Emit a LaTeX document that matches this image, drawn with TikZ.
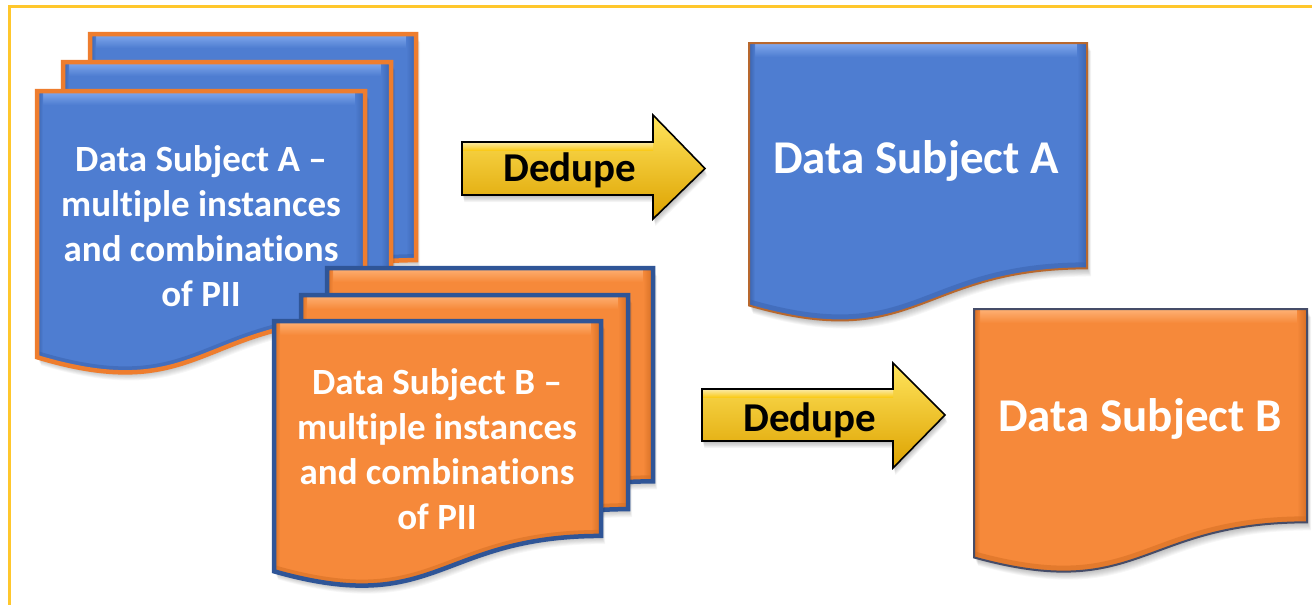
\documentclass[tikz,border=0pt]{standalone}
\usepackage{fontspec}
\setmainfont{Carlito}[Ligatures=NoCommon]
\usetikzlibrary{calc}

\definecolor{docblue}{HTML}{4E7DD1}
\definecolor{bluelight}{HTML}{86ADF0}
\definecolor{bluedark}{HTML}{3A63AE}
\definecolor{docorange}{HTML}{F6893A}
\definecolor{orangelight}{HTML}{FFB57A}
\definecolor{orangedark}{HTML}{D46E24}
\definecolor{edgeorange}{HTML}{EE7D2E}
\definecolor{edgeblue}{HTML}{2F5597}
\definecolor{edgebrown}{HTML}{B8682E}
\definecolor{edgeslate}{HTML}{454C68}
\definecolor{frameyellow}{HTML}{FFC72C}
\definecolor{arrowtop}{HTML}{FFE45C}
\definecolor{arrowmid}{HTML}{FFC800}
\definecolor{arrowbot}{HTML}{DDA200}

% flowchart "document" shape with a soft shadow and a bevelled look
% #1 x, #2 y, #3 width, #4 height, #5 fill, #6 light, #7 dark, #8 edge colour, #9 edge width
\newcommand\flowdoc[9]{%
  \def\dpath{(#1,#2) -- ({#1+#3},#2) -- ({#1+#3},{#2+0.802*#4})
    .. controls ({#1+0.5*#3},{#2+0.802*#4}) and ({#1+0.5*#3},{#2+1.1075*#4}) .. (#1,{#2+0.934*#4}) -- cycle}%
  \foreach \s in {1,...,9}{\fill[black,opacity=0.03,shift={({0.45*\s},{0.9*\s})}] \dpath;}
  \begin{scope}
    \clip \dpath;
    \fill[#5] \dpath;
    \shade[top color=#6, bottom color=#5] (#1,{#2-1}) rectangle ({#1+#3},{#2+14});
    \shade[left color=#5, right color=#7] ({#1+#3-10},#2) rectangle ({#1+#3},{#2+1.2*#4});
    \shade[left color=#7, right color=#5] (#1,#2) rectangle ({#1+6},{#2+1.2*#4});
    \draw[#7, line width=12, opacity=0.55] ({#1+#3},{#2+0.802*#4})
      .. controls ({#1+0.5*#3},{#2+0.802*#4}) and ({#1+0.5*#3},{#2+1.1075*#4}) .. (#1,{#2+0.934*#4});
  \end{scope}
  \draw[#8, line width=#9, line join=miter] \dpath;
}

% block arrow: #1 tail x, #2 shaft top, #3 shaft bottom, #4 head base x,
% #5 head top, #6 head bottom, #7 tip x
\newcommand\blockarrow[7]{%
  \def\apath{(#1,#2) -- (#4,#2) -- (#4,#5) -- (#7,{0.5*(#2+#3)}) -- (#4,#6) -- (#4,#3) -- (#1,#3) -- cycle}%
  \foreach \s in {1,...,8}{\fill[black,opacity=0.035,shift={({0.3*\s},{0.9*\s})}] \apath;}
  \shade[top color=arrowtop, middle color=arrowmid, bottom color=arrowbot] \apath;
  \begin{scope}
    \clip \apath;
    \shade[top color=white, bottom color=arrowmid, opacity=0.55] (#1,#2) rectangle (#4,{#2+8});
  \end{scope}
  \draw[black, line width=1.6, line join=miter] \apath;
}

\tikzset{
  stacktext/.style={text=white, font=\bfseries\fontsize{37}{45}\selectfont, align=center, inner sep=0pt},
  bigtext/.style={text=white, font=\bfseries\fontsize{47}{56}\selectfont, inner sep=0pt, anchor=base},
  arrowtext/.style={text=black, font=\bfseries\fontsize{41}{49}\selectfont, inner sep=0pt, anchor=base}
}

\begin{document}
\begin{tikzpicture}[x=1pt, y=-1pt]
  \useasboundingbox (0,0) rectangle (1312,605);
  \fill[white] (0,0) rectangle (1312,605);
  % frame
  \draw[frameyellow, line width=3] (1320,6) -- (9.5,6) -- (9.5,615);

  % stack of records for subject A
  \flowdoc{90}{34}{326}{282}{docblue}{bluelight}{bluedark}{edgeorange}{4.5}
  \flowdoc{63}{62}{328}{282}{docblue}{bluelight}{bluedark}{edgeorange}{4.5}
  \flowdoc{37}{91}{328}{285}{docblue}{bluelight}{bluedark}{edgeorange}{4.5}
  \node[stacktext] (stackA) at (201,226) {Data Subject A --\\multiple instances\\and combinations\\of PII};

  % stack of records for subject B
  \flowdoc{327}{268}{326}{266}{docorange}{orangelight}{orangedark}{edgeblue}{4.5}
  \flowdoc{301}{295}{327}{267}{docorange}{orangelight}{orangedark}{edgeblue}{4.5}
  \flowdoc{274}{321}{327}{268}{docorange}{orangelight}{orangedark}{edgeblue}{4.5}
  \node[stacktext] (stackB) at (437,449) {Data Subject B --\\multiple instances\\and combinations\\of PII};

  % dedupe arrows
  \blockarrow{462}{142}{195}{653}{115}{219}{705}
  \node[arrowtext] (dedupeA) at (570,181) {Dedupe};
  \blockarrow{702}{389}{441}{893}{363}{468}{945}
  \node[arrowtext] (dedupeB) at (810,431) {Dedupe};

  % single deduplicated records
  \flowdoc{749}{43}{338}{281}{docblue}{bluelight}{bluedark}{edgebrown}{2}
  \node[bigtext] (subjA) at (916,173) {Data Subject A};
  \flowdoc{974}{309}{333}{266}{docorange}{orangelight}{orangedark}{edgeslate}{2}
  \node[bigtext] (subjB) at (1140,431) {Data Subject B};
\end{tikzpicture}
\end{document}
